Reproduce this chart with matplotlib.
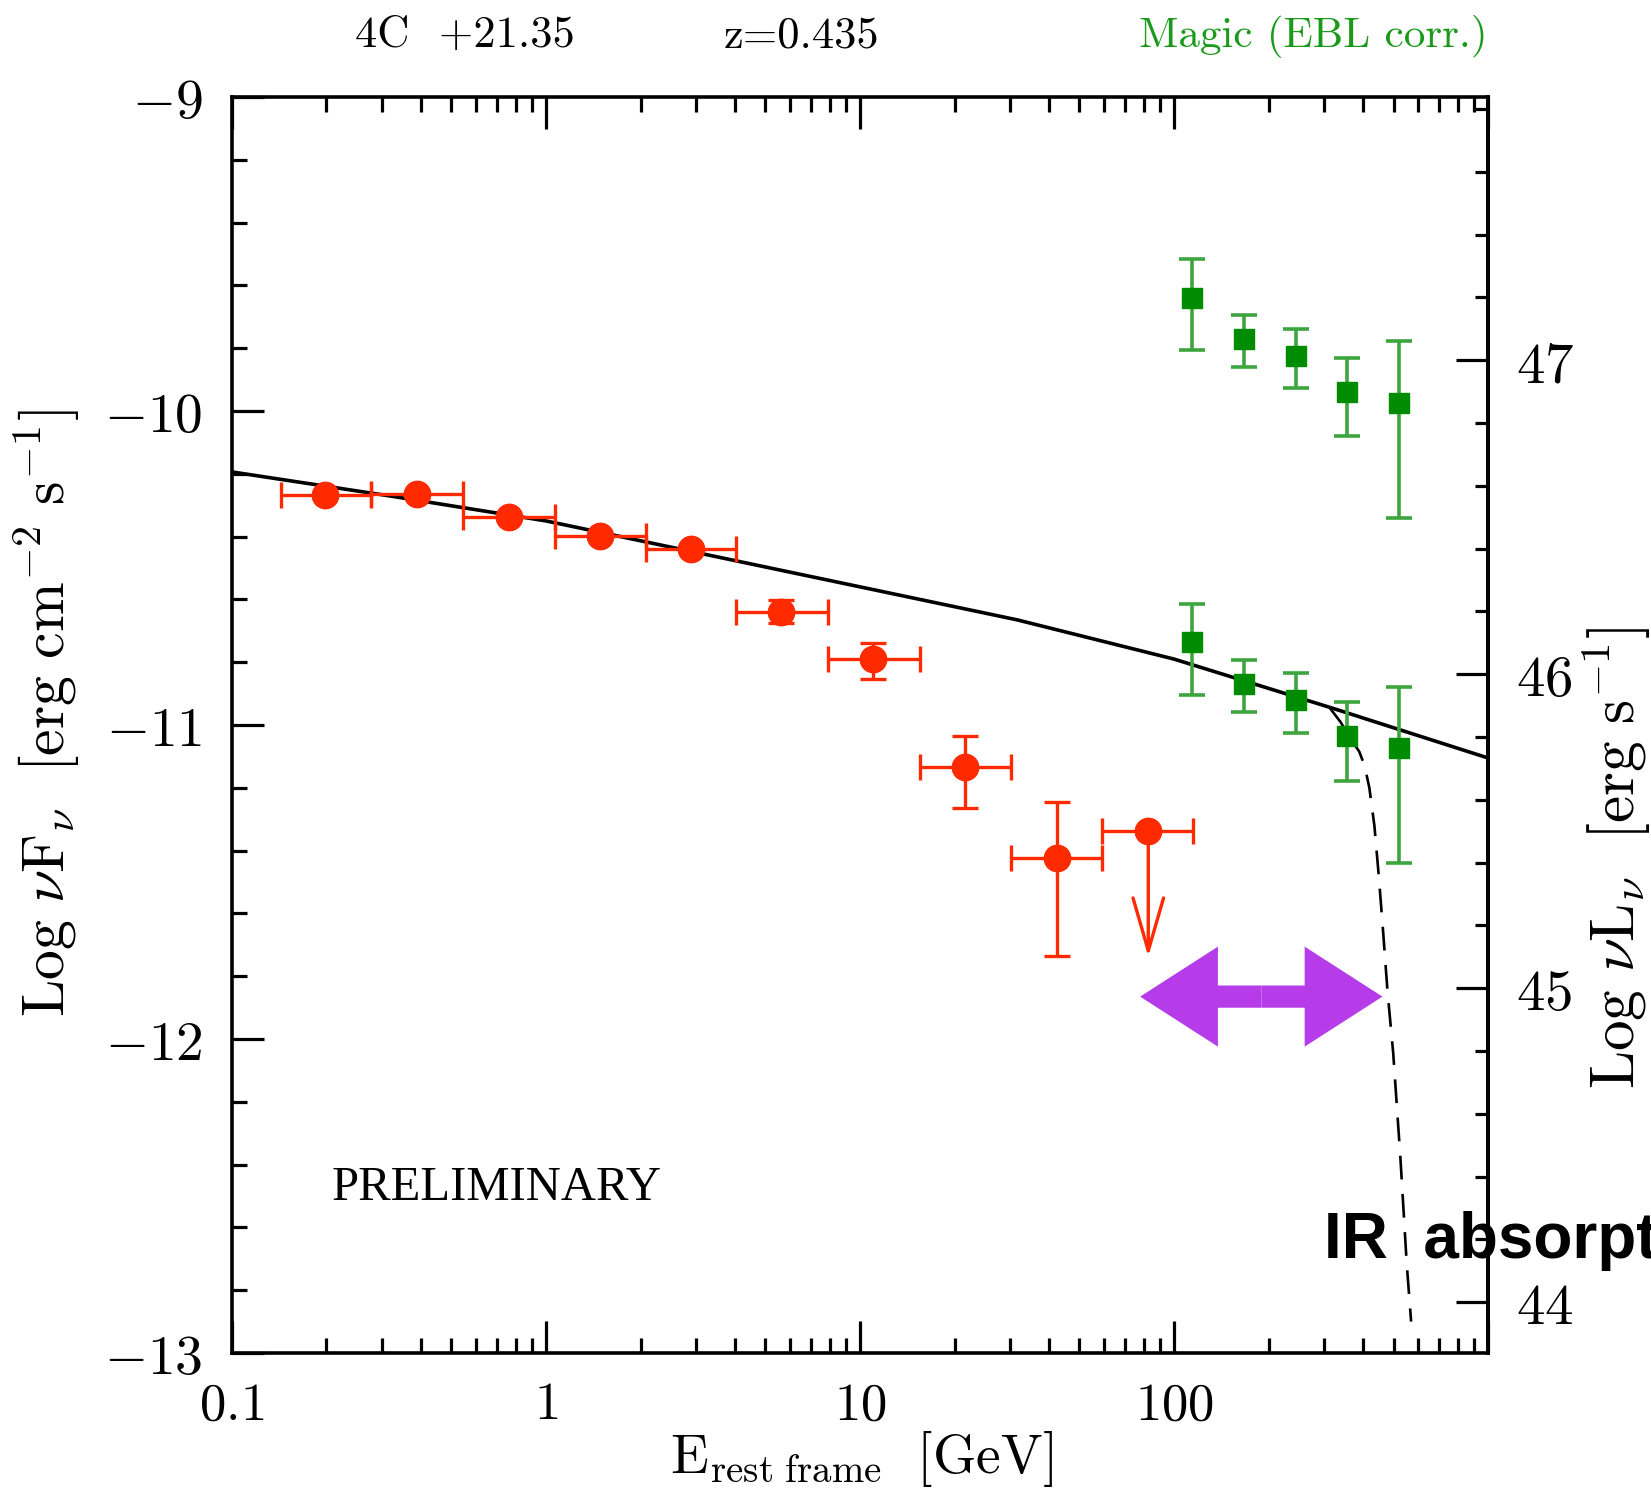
import numpy as np
import matplotlib
matplotlib.use("Agg")
import matplotlib.pyplot as plt
from matplotlib.ticker import MultipleLocator, LogLocator, FixedLocator, NullFormatter, FuncFormatter

plt.rcParams['mathtext.fontset'] = 'cm'
plt.rcParams['font.family'] = 'DejaVu Serif'

# -----------------------------------------
# data (energies in GeV, log nuFnu in erg cm^-2 s^-1)
# -----------------------------------------
# Fermi/LAT points (red)
lat_E = [0.198, 0.388, 0.762, 1.486, 2.897, 5.62, 11.02, 21.6, 42.3]
lat_E_lo = [0.1435, 0.278, 0.546, 1.072, 2.075, 4.03, 7.91, 15.5, 30.2]
lat_E_hi = [0.278, 0.546, 1.072, 2.075, 4.03, 7.91, 15.5, 30.2, 58.9]
lat_logF = [-10.269, -10.263, -10.339, -10.398, -10.439, -10.639, -10.791, -11.135, -11.423]
lat_err_lo = [0.0, 0.0, 0.0, 0.0, 0.0, 0.036, 0.062, 0.128, 0.312]
lat_err_hi = [0.0, 0.0, 0.0, 0.0, 0.0, 0.036, 0.053, 0.101, 0.177]

# upper limit
ul_E = [82.8]
ul_E_lo = [58.9]
ul_E_hi = [115.3]
ul_logF = [-11.338]

# MAGIC (green)
magic_E = [114.3, 167.5, 244.3, 356.5, 518.8]
magic_obs = [-10.737, -10.870, -10.920, -11.034, -11.072]
magic_obs_lo = [0.167, 0.089, 0.106, 0.143, 0.366]
magic_obs_hi = [0.121, 0.077, 0.085, 0.106, 0.194]
magic_ebl = [-9.641, -9.771, -9.824, -9.938, -9.973]
magic_ebl_lo = [0.165, 0.088, 0.104, 0.142, 0.367]
magic_ebl_hi = [0.124, 0.077, 0.086, 0.108, 0.196]

# model (solid) and model with IR absorption (dashed)
model_logE = [-1.0, -0.5, 0.0, 0.5, 1.0, 1.5, 2.0, 2.5, 3.0]
model_logF = [-10.194, -10.27, -10.35, -10.455, -10.56, -10.665, -10.79, -10.945, -11.105]
abs_logE = [2.497, 2.53, 2.56, 2.59, 2.607, 2.622, 2.638, 2.652, 2.666, 2.68, 2.698, 2.721, 2.741, 2.755]
abs_logF = [-10.947, -10.99, -11.04, -11.085, -11.13, -11.2, -11.32, -11.48, -11.66, -11.85, -12.045, -12.38, -12.715, -12.90]

# purple double arrow (IR absorption range)
arrow_E = [78.0, 190.0, 461.0]
arrow_logF = [-11.865, -11.865, -11.865]

lum_offset = 56.838  # log nuL = log nuF + offset

red = '#ff2a00'
green = '#008c00'
green_bar = '#3ea53e'
purple = '#b53ce8'

# -----------------------------------------
# figure
# -----------------------------------------
fig = plt.figure(figsize=(16.51, 15.02), dpi=100)
ax = fig.add_axes([0.1405, 0.0992, 0.7608, 0.8362])
ax.set_xscale('log')
ax.set_xlim(0.1, 1000)
ax.set_ylim(-13, -9)

# model curves
ax.plot(10 ** np.array(model_logE), model_logF, color='black', lw=2.6, zorder=3)
ax.plot(10 ** np.array(abs_logE), abs_logF, color='black', lw=1.9, ls='--',
        dashes=(9, 5.5), zorder=3)

# red points
E = np.array(lat_E)
ax.errorbar(E, lat_logF,
            xerr=[E - np.array(lat_E_lo), np.array(lat_E_hi) - E],
            yerr=[lat_err_lo, lat_err_hi],
            fmt='o', color=red, ms=19, elinewidth=2.4, capsize=9.5, capthick=2.4, zorder=4)
U = np.array(ul_E)
ax.errorbar(U, ul_logF, xerr=[U - np.array(ul_E_lo), np.array(ul_E_hi) - U],
            fmt='o', color=red, ms=19, elinewidth=2.4, capsize=9.5, capthick=2.4, zorder=4)
for e, f in zip(ul_E, ul_logF):
    ax.annotate('', xy=(e, f - 0.40), xytext=(e, f),
                arrowprops=dict(arrowstyle='->,head_length=1.9,head_width=0.55',
                                color=red, lw=2.4, shrinkA=0, shrinkB=0, mutation_scale=20))

# green points
for vals, lo, hi in [(magic_obs, magic_obs_lo, magic_obs_hi), (magic_ebl, magic_ebl_lo, magic_ebl_hi)]:
    ax.errorbar(magic_E, vals, yerr=[lo, hi], fmt='s', color=green, ecolor=green_bar,
                ms=14, elinewidth=2.6, capsize=9.5, capthick=2.6, zorder=4)

# purple double arrow, drawn as two fat arrows from the middle
for tip in [0, 2]:
    ax.annotate('', xy=(arrow_E[tip], arrow_logF[tip]), xytext=(arrow_E[1], arrow_logF[1]),
                arrowprops=dict(arrowstyle='simple,head_length=56,head_width=72,tail_width=16',
                                color=purple, lw=0, shrinkA=0, shrinkB=0, mutation_scale=1),
                zorder=5)

ax.text(0.208, -12.514, 'PRELIMINARY', fontsize=35, family='Liberation Serif', va='baseline')

# -----------------------------------------
# axes styling
# -----------------------------------------
for s in ax.spines.values():
    s.set_linewidth(2.6)

ax.xaxis.set_major_locator(FixedLocator([0.1, 1, 10, 100, 1000]))
ax.xaxis.set_major_formatter(FuncFormatter(lambda v, p: '' if v > 500 else r'$%g$' % v))
ax.xaxis.set_minor_locator(LogLocator(base=10, subs=np.arange(2, 10), numticks=30))
ax.xaxis.set_minor_formatter(NullFormatter())
ax.yaxis.set_major_locator(MultipleLocator(1))
ax.yaxis.set_minor_locator(MultipleLocator(0.2))
ax.yaxis.set_major_formatter(FuncFormatter(lambda v, p: r'$%d$' % round(v)))

ax.tick_params(which='both', direction='in', top=True, right=False, width=2.3)
ax.tick_params(which='major', length=23)
ax.tick_params(which='minor', length=11)
ax.tick_params(axis='x', labelsize=38, pad=19)
ax.tick_params(axis='y', labelsize=40, pad=21)

sec = ax.secondary_yaxis('right', functions=(lambda y: y + lum_offset, lambda y: y - lum_offset))
sec.yaxis.set_major_locator(MultipleLocator(1))
sec.yaxis.set_minor_locator(MultipleLocator(0.2))
sec.yaxis.set_major_formatter(FuncFormatter(lambda v, p: r'$%d$' % round(v)))
sec.tick_params(which='both', direction='in', width=2.3)
sec.tick_params(which='major', length=23, labelsize=41, pad=20)
sec.tick_params(which='minor', length=9.5)
sec.spines['right'].set_linewidth(2.6)

# labels and titles
fig.text(0.0285, 0.5253, r'$\mathrm{Log}\ \nu\mathrm{F}_\nu\ \ [\mathrm{erg\ cm^{-2}\ s^{-1}}]$',
         rotation=90, ha='center', va='center', fontsize=43)
fig.text(0.9788, 0.4288, r'$\mathrm{Log}\ \nu\mathrm{L}_\nu\ \ [\mathrm{erg\ s^{-1}}]$',
         rotation=90, ha='center', va='center', fontsize=44)
fig.text(0.5215, 0.019, r'$\mathrm{E}_{\mathrm{rest\ frame}}\ \ [\mathrm{GeV}]$',
         ha='center', va='baseline', fontsize=40)

fig.text(0.2817, 0.9687, '4C  +21.35', ha='center', va='baseline', fontsize=32, family='cmr10')
fig.text(0.4855, 0.9687, 'z=0.435', ha='center', va='baseline', fontsize=32, family='cmr10')
fig.text(0.7956, 0.9687, 'Magic (EBL corr.)', ha='center', va='baseline',
         fontsize=31, family='cmr10', color='#1a9a1a')

fig.text(0.8017, 0.1624, 'IR  absorption', fontsize=46, fontweight='bold',
         family='Liberation Sans', va='baseline')

fig.savefig('out.png', dpi=100)
